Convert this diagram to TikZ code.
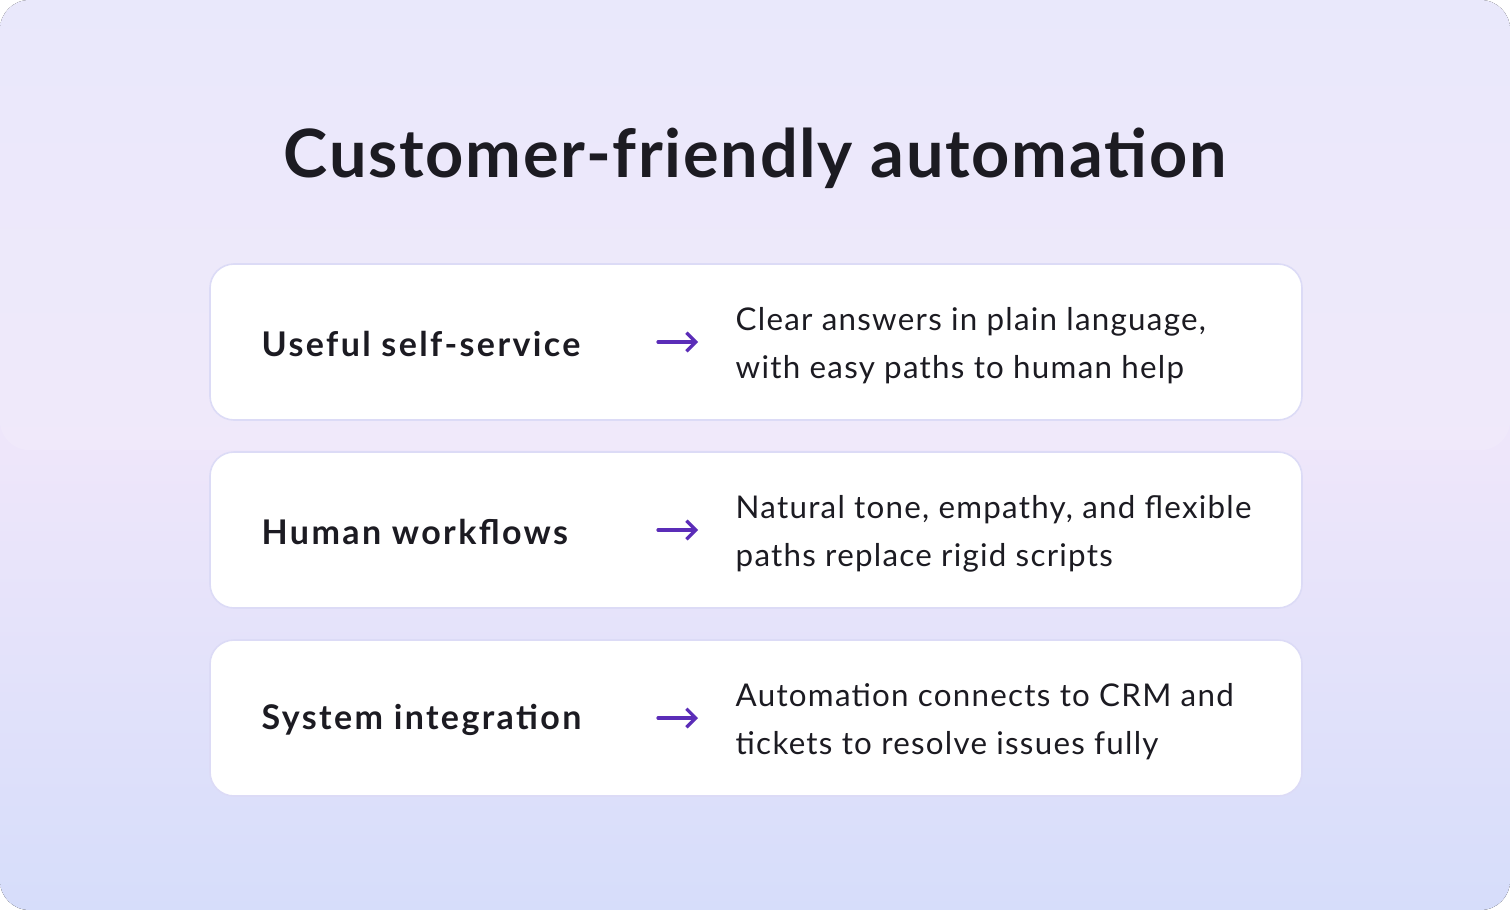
\documentclass[tikz,border=0pt]{standalone}
\usepackage{fontspec}
\setmainfont{Lato}
\usetikzlibrary{arrows.meta}
\definecolor{bgA}{HTML}{E6E5FB}
\definecolor{bgB}{HTML}{EEE6FA}
\definecolor{bgC}{HTML}{D6DDFA}
\definecolor{cardline}{HTML}{DCDBF6}
\definecolor{arr}{HTML}{5B2DB8}
\definecolor{ink}{HTML}{1C1B22}
\begin{document}
\begin{tikzpicture}[x=0.75pt,y=-0.75pt,
 card/.style={draw=cardline,line width=1.2pt,fill=white,rounded corners=18pt},
 lab/.style={anchor=west,font=\fontsize{25.5}{30}\selectfont\bfseries\addfontfeatures{LetterSpace=7},text=ink},
 desc/.style={anchor=west,align=left,font=\fontsize{23.5}{36}\selectfont\addfontfeatures{LetterSpace=4},text=ink},
 arrw/.style={draw=arr,line width=2.4pt,line cap=round,-{Straight Barb[length=7pt,width=14pt,line width=2.4pt]}}]
\useasboundingbox (0,0) rectangle (1510,910);
\fill[rounded corners=22pt,top color=bgA,bottom color=bgC,middle color=bgB] (0,0) rectangle (1510,910);
\fill[white,opacity=0.15,rounded corners=22pt] (0,0) rectangle (1510,450);
\node[font=\fontsize{50}{60}\selectfont\bfseries\addfontfeatures{LetterSpace=2.5},text=ink] (title) at (755,158) {Customer-friendly automation};
\foreach \i/\y/\l/\d in {1/342/Useful self-service/{Clear answers in plain language,\\with easy paths to human help},
 2/530/Human workflows/{Natural tone, empathy, and flexible\\paths replace rigid scripts},
 3/718/System integration/{Automation connects to CRM and\\tickets to resolve issues fully}}{
 \path[card] (210,\y-78) rectangle (1302,\y+78);
 \node[lab] (l\i) at (257,\y+2) {\l};
 \node[desc] (d\i) at (731,\y+4) {\d};
 \coordinate (s\i) at (658,\y);
 \coordinate (e\i) at (698,\y);
 \draw[arrw] (s\i) -- (e\i);
}
\end{tikzpicture}
\end{document}
